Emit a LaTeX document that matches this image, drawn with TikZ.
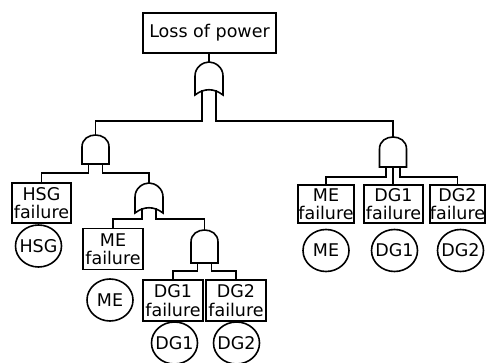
\documentclass[tikz,border=0pt]{standalone}
\usepackage{fontspec}
\newfontfamily\gf{DejaVu Sans}
\usetikzlibrary{shapes.geometric}
\begin{document}
\begin{tikzpicture}[x=1pt,y={(0pt,-1pt)},line width=1.6pt,
  box/.style={draw,inner sep=0pt,align=center,minimum height=40pt,font={\gf\fontsize{17.5}{18.5}\selectfont}},
  evt/.style={draw,ellipse,inner xsep=-14pt,inner ysep=-8pt,minimum width=46pt,minimum height=42pt,font={\gf\fontsize{17.5}{18.5}\selectfont}},
  andg/.pic={
    \draw (-13.5,#1) -- (-13.5,12) .. controls (-13.5,-4) and (13.5,-4) .. (13.5,12) -- (13.5,#1) -- cycle;
    \coordinate (-top) at (0,0);
    \coordinate (-l) at (-7,#1);
    \coordinate (-c) at (0,#1);
    \coordinate (-r) at (7,#1);
  },
  org/.pic={
    \draw (-14,#1) -- (-14,14) .. controls (-14,5) and (-6,0) .. (0,0) .. controls (6,0) and (14,5) .. (14,14) -- (14,#1) .. controls (5,#1-7) and (-5,#1-7) .. cycle;
    \coordinate (-top) at (0,0);
    \coordinate (-l) at (-7,#1-4.5);
    \coordinate (-r) at (7,#1-4.5);
  }]
\useasboundingbox (0,0) rectangle (490,363);
% events
\node[box,minimum width=133pt] (top) at (209.5,33) {Loss of power};
\node[box,minimum width=59pt] (hsgF) at (41.5,203) {HSG\\failure};
\node[evt] (hsgC) at (38.5,246) {HSG};
\node[box,minimum width=60pt,minimum height=41pt] (meF1) at (113,249) {ME\\failure};
\node[evt] (meC1) at (110,300) {ME};
\node[box,minimum width=60pt,minimum height=41pt] (dg1F) at (173,300.5) {DG1\\failure};
\node[box,minimum width=60pt,minimum height=41pt] (dg2F) at (236,300.5) {DG2\\failure};
\node[evt] (dg1C) at (174.5,343) {DG1};
\node[evt] (dg2C) at (236.5,343) {DG2};
\node[box,minimum width=56pt,minimum height=38pt] (meF2) at (326,204) {ME\\failure};
\node[box,minimum width=59pt,minimum height=38pt] (dg1F2) at (393.5,204) {DG1\\failure};
\node[box,minimum width=55pt,minimum height=38pt] (dg2F2) at (457.5,204) {DG2\\failure};
\node[evt] (meC2) at (326,250.5) {ME};
\node[evt] (dg1C2) at (394.5,250.5) {DG1};
\node[evt] (dg2C2) at (460.5,250.5) {DG2};
% gates
\pic (or1) at (209,62) {org=33};
\pic (and1) at (95.5,135) {andg=29};
\pic (or2) at (149,183) {org=30};
\pic (and2) at (204.5,230) {andg=33};
\pic (and3) at (393,137) {andg=30};
% connectors
\draw (top.south -| or1-top) -- (or1-top);
\draw (or1-l) -- ++(0,30.5) -| (and1-top);
\draw (or1-r) -- ++(0,30.5) -| (and3-top);
\draw (and1-l) -- ++(0,9) -| (hsgF.north);
\draw (and1-r) -- ++(0,9) -| (or2-top);
\draw (or2-l) -- ++(0,10.5) -| (meF1.north);
\draw (or2-r) -- ++(0,10.5) -| (and2-top);
\draw (and2-l) -- ++(0,8) -| (dg1F.north);
\draw (and2-r) -- ++(0,8) -| (dg2F.north);
\draw (and3-l) -- ++(0,10) -| (meF2.north);
\draw (and3-c) -- (and3-c |- dg1F2.north);
\draw (and3-r) -- ++(0,10) -| (dg2F2.north);
\end{tikzpicture}
\end{document}
